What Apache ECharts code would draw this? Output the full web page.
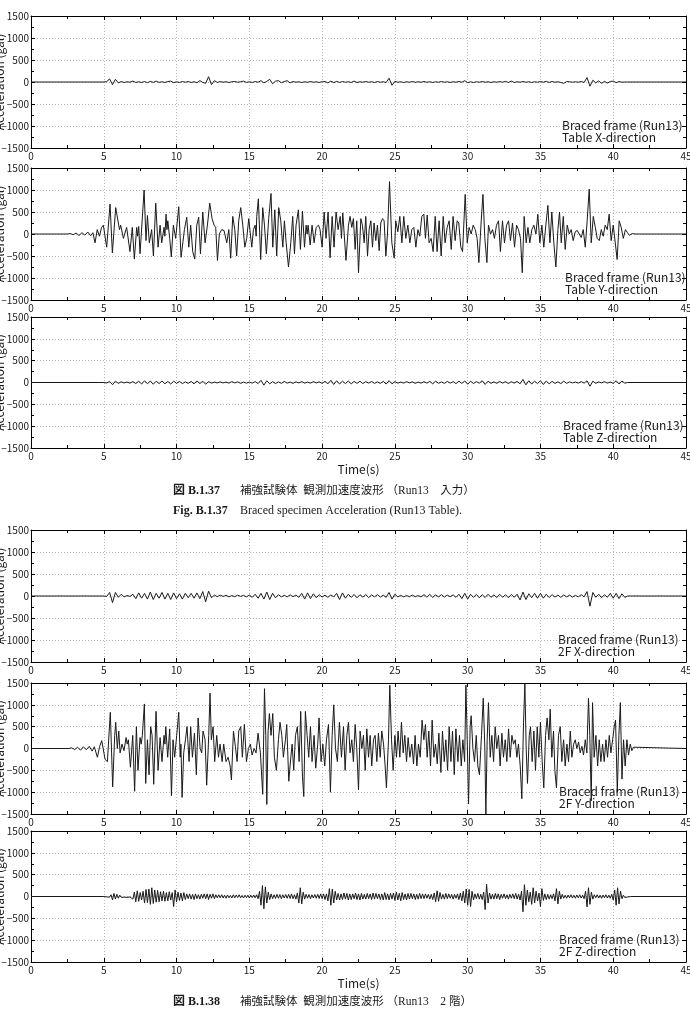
<!DOCTYPE html>
<html><head><meta charset="utf-8">
<script src="https://cdn.jsdelivr.net/npm/echarts@6/dist/echarts.min.js"></script>
<style>html,body{margin:0;padding:0;background:#fff}#c{width:690px;height:1011px}</style>
</head><body><div id="c"></div>
<script>
// ---------- axis ranges ----------
const timeRange = [0, 45];
const accRange = [-1500, 1500];

// ---------- uniform-sampled series (dt, start time, values) ----------
const smallDt = 0.2;
const smallT0 = 5.0;
const tableX = [
  0, 10, 70, -60, 60, -20, 10, -10, 5, -5,
  20, -10, 5, -10, 10, -15, 15, -10, 20, -10,
  5, -10, 10, 20, -15, 5, -10, 10, -5, 10,
  -10, 5, -15, 30, -10, -30, 120, -60, 30, -10,
  10, -5, 5, -10, 5, 10, -5, 5, 20, -10,
  5, -10, 10, -5, 30, -20, 15, 60, -40, 20,
  30, -15, 10, 30, -20, 10, -5, 5, -10, 5,
  -5, 10, -5, 5, -10, 5, 10, -20, 20, -15,
  15, -10, 10, -5, 5, -10, 20, -10, 5, -5,
  10, -5, 5, -10, 10, -5, 5, -10, 85, -75,
  15, -5, 5, -10, 5, -5, 10, -5, 5, -5,
  10, -5, 5, -10, 5, -5, 10, -5, 5, -10,
  5, -5, 10, -5, 30, -15, 5, -10, 5, -5,
  10, -5, 5, -10, 5, -5, 10, -5, 15, -10,
  20, -10, 5, -5, 10, -5, 5, -10, 5, -5,
  10, -5, 15, -10, 10, -5, 5, -10, -30, 10,
  5, -5, 5, -5, 10, -10, 100, -95, 40, -20,
  25, -30, 15, -25, 10, 20, -15, 10, -5, 0,
  0
];
const tableZ = [
  0, -10, 20, -50, 30, -20, 15, -10, 10, -15,
  20, -25, 30, -35, 40, -30, 35, -40, 30, -25,
  35, -30, 25, -35, 30, -20, 25, -25, 15, -20,
  25, -30, 35, -25, 30, -40, 20, -15, 10, -10,
  15, -10, 10, -15, 20, -10, 15, -20, 10, -15,
  10, -15, 20, -25, 50, -60, 40, -30, 20, -25,
  15, -20, 25, -15, 10, -20, 15, -10, 20, -15,
  10, -15, 20, -10, 15, -20, 25, -30, 50, -45,
  40, -35, 30, -25, 35, -30, 25, -20, 30, -25,
  20, -15, 25, -20, 15, -20, 25, -35, 40, -30,
  20, -15, 10, -15, 20, -10, 15, -20, 10, -15,
  20, -15, 25, -30, 30, -20, 15, -20, 25, -15,
  20, -25, 30, -20, 35, -40, 30, -25, 20, -15,
  40, -45, 30, -20, 15, -20, 25, -15, 20, -25,
  20, -15, 25, -30, 70, -55, 40, -35, 30, -25,
  40, -45, 35, -30, 25, -20, 15, -25, 30, -20,
  15, -10, 10, -15, 20, -15, 40, -85, 30, -20,
  15, -10, 20, -15, 10, -20, 40, -35, 30, -15,
  0
];
const floor2X = [
  0, -10, 80, -150, 80, -30, 40, -20, 10, -10,
  40, -60, 70, -50, 60, -70, 90, -80, 60, -50,
  80, -70, 60, -80, 70, -60, 50, -70, 60, -40,
  60, -50, 70, -60, 100, -130, 110, -40, 20, -15,
  20, -10, 15, -20, 10, -15, 20, -10, 15, -20,
  20, -30, 40, -50, 60, -70, 90, -80, 60, -40,
  30, -20, 15, -20, 25, -15, 20, -30, 60, -70,
  70, -60, 50, -40, 30, -25, 20, -30, 25, -20,
  60, -80, 70, -50, 40, -30, 35, -40, 30, -25,
  30, -35, 25, -20, 30, -25, 20, -30, 80, -70,
  40, -20, 15, -20, 10, -15, 20, -15, 10, -20,
  30, -25, 35, -30, 25, -20, 30, -25, 20, -15,
  25, -30, 40, -60, 60, -70, 40, -30, 35, -40,
  30, -35, 40, -30, 25, -35, 40, -30, 30, -40,
  35, -30, 40, -90, 90, -80, 50, -40, 60, -50,
  60, -50, 40, -35, 30, -25, 20, -30, 25, -20,
  20, -25, 15, -20, 30, -20, 100, -230, 80, -30,
  40, -40, 30, -30, 60, -50, 60, -60, 50, -30,
  0
];
const fineDt = 0.1;
const fineT0 = 5.0;
const floor2Z = [
  0, 5, -10, 10, -15, 40, -80, 70, -60, 50,
  -40, 30, -20, 25, -15, 20, -20, 15, -10, 20,
  -60, 100, -120, 130, -110, 90, -80, 120, -150, 160,
  -140, 170, -180, 200, -160, 150, -130, 140, -120, 110,
  -100, 120, -110, 90, -100, 110, -80, 90, -230, 150,
  -120, 100, -90, 80, -100, 90, -70, 60, -50, 60,
  -60, 50, -70, 60, -50, 40, -60, 50, -40, 60,
  -50, 60, -70, 50, -40, 60, -50, 40, -30, 40,
  -30, 40, -35, 30, -40, 35, -30, 25, -35, 40,
  -30, 35, -25, 40, -30, 25, -35, 30, -25, 30,
  -35, 30, -25, 35, -30, 40, -50, 120, -200, 250,
  -280, 220, -150, 100, -70, 60, -50, 40, -45, 50,
  -40, 45, -50, 40, -35, 45, -40, 50, -45, 60,
  -50, 40, -60, 80, -150, 200, -170, 100, -60, 50,
  -40, 45, -50, 40, -35, 45, -40, 50, -45, 60,
  -50, 60, -70, 60, -100, 180, -200, 170, -150, 120,
  -80, 70, -80, 60, -70, 80, -60, 70, -80, 60,
  -70, 60, -50, 80, -70, 60, -80, 70, -60, 50,
  -60, 70, -50, 60, -70, 80, -60, 70, -50, 60,
  -70, 60, -80, 90, -70, 60, -80, 70, -60, 80,
  -90, 100, -80, 70, -100, 90, -70, 60, -80, 70,
  -60, 70, -50, 60, -70, 50, -60, 70, -50, 60,
  -50, 60, -40, 50, -60, 50, -70, 80, -120, 130,
  -110, 90, -60, 50, -60, 70, -50, 60, -40, 50,
  -60, 50, -40, 60, -70, 80, -100, 120, -150, 170,
  -200, 160, -230, 120, -80, 60, -50, 70, -60, 50,
  -70, 100, -300, 280, -150, 80, -60, 50, -60, 70,
  -50, 60, -70, 50, -40, 60, -50, 40, -60, 50,
  -40, 60, -50, 70, -60, 50, -80, 120, -350, 270,
  -200, 150, -120, 100, -180, 200, -150, 120, -100, 80,
  -230, 180, -90, 60, -70, 50, -60, 40, -50, 60,
  -100, 180, -170, 120, -60, 50, -40, 30, -40, 35,
  -30, 40, -35, 30, -40, 35, -30, 40, -35, 30,
  -50, 120, -240, 200, -180, 100, -60, 40, -30, 40,
  -35, 30, -40, 35, -30, 40, -35, 30, -40, 50,
  -80, 150, -200, 200, -170, 120, -50, 30, -25, 20,
  -10, 5, 0
];

// ---------- turning-point series [time s, acceleration gal] ----------
const tableY = [
  [0,0],[2.5,0],[2.7,10],[2.9,-15],[3.1,20],[3.3,-35],[3.5,30],[3.7,-25],[3.9,45],[4.1,-40],[4.25,30],[4.4,-200],[4.55,100],[4.7,-50],[4.85,150],[4.97,200],
  [5.2,-300],[5.43,680],[5.59,-430],[5.82,600],[6.0,250],[6.08,100],[6.16,200],[6.35,-100],[6.57,150],[6.8,-400],[6.96,150],[7.1,-570],[7.26,150],[7.33,-50],[7.4,170],[7.49,-450],
  [7.77,1000],[7.9,-150],[8.0,420],[8.13,-200],[8.29,100],[8.41,-500],[8.57,700],[8.73,-300],[8.87,200],[8.98,-200],[9.14,150],[9.2,-50],[9.28,450],[9.34,100],[9.4,300],[9.53,-100],
  [9.64,-520],[9.78,200],[9.94,-100],[10.15,620],[10.31,-530],[10.54,100],[10.7,380],[10.84,-300],[10.97,200],[11.11,-400],[11.25,-570],[11.39,200],[11.52,380],[11.64,-450],[11.8,500],
  [11.96,-200],[12.12,200],[12.28,700],[12.44,350],[12.58,200],[12.69,150],[12.81,-600],[12.94,0],[13.1,100],[13.26,80],[13.45,-200],[13.59,100],[13.72,-550],[13.86,400],[14.0,100],
  [14.13,-500],[14.27,300],[14.41,600],[14.55,200],[14.69,-300],[14.82,-100],[14.96,350],[15.07,0],[15.17,-300],[15.28,100],[15.4,200],[15.47,-50],[15.51,400],[15.62,800],[15.78,-580],
  [15.92,600],[16.04,200],[16.17,-450],[16.33,350],[16.49,920],[16.61,-300],[16.75,550],[16.88,-500],[17.02,600],[17.16,300],[17.3,-300],[17.41,300],[17.53,-200],[17.69,-750],
  [17.85,-200],[17.98,400],[18.1,-450],[18.21,200],[18.37,550],[18.51,-350],[18.65,520],[18.79,-300],[18.9,200],[18.97,0],[19.04,200],[19.18,-250],[19.31,200],[19.45,-200],[19.59,150],
  [19.75,200],[19.86,100],[20.0,-300],[20.14,500],[20.27,-100],[20.41,500],[20.55,-540],[20.69,400],[20.82,-300],[20.96,500],[21.1,100],[21.24,400],[21.33,-100],[21.42,480],[21.64,-600],
  [21.81,200],[21.92,400],[22.04,150],[22.15,350],[22.27,-350],[22.38,300],[22.5,-880],[22.66,350],[22.77,200],[22.89,-200],[23.0,400],[23.12,-500],[23.23,100],[23.35,300],[23.46,-300],
  [23.57,250],[23.69,-150],[23.8,200],[23.92,-380],[24.03,250],[24.15,350],[24.26,300],[24.38,-500],[24.49,0],[24.63,1190],[24.79,-200],[24.95,-550],[25.06,300],[25.2,50],[25.34,400],
  [25.48,-200],[25.61,400],[25.75,-100],[25.89,200],[26.03,-200],[26.16,100],[26.3,150],[26.44,-300],[26.58,100],[26.71,-50],[26.85,400],[26.99,450],[27.1,-100],[27.22,430],[27.35,-200],
  [27.49,-100],[27.63,-400],[27.77,400],[27.9,-400],[28.04,300],[28.18,-500],[28.32,400],[28.45,-200],[28.59,150],[28.73,300],[28.87,-350],[29.0,400],[29.14,-150],[29.28,300],[29.39,250],
  [29.53,-300],[29.65,-400],[29.83,900],[29.97,-200],[30.1,150],[30.24,0],[30.38,200],[30.52,100],[30.65,-100],[30.77,-650],[30.93,300],[31.05,900],[31.18,-100],[31.32,-650],[31.43,200],
  [31.57,0],[31.71,100],[31.84,-100],[31.98,200],[32.12,300],[32.25,-400],[32.39,300],[32.53,-200],[32.67,200],[32.81,300],[32.94,-150],[33.08,250],[33.22,-300],[33.36,200],[33.49,100],
  [33.63,-100],[33.75,-880],[33.88,400],[34.02,-200],[34.14,150],[34.27,-200],[34.41,100],[34.55,200],[34.69,0],[34.82,450],[34.96,-200],[35.1,200],[35.23,-300],[35.37,200],[35.51,650],
  [35.65,-200],[35.78,500],[35.92,-200],[36.06,-750],[36.2,100],[36.31,500],[36.43,-200],[36.57,400],[36.7,-350],[36.84,200],[36.98,0],[37.11,100],[37.25,-150],[37.39,50],[37.53,80],
  [37.66,100],[37.8,-80],[37.94,100],[38.08,-300],[38.21,300],[38.35,1020],[38.49,-200],[38.63,400],[38.77,150],[38.9,-100],[39.04,-150],[39.18,100],[39.31,-50],[39.45,200],[39.59,100],
  [39.72,450],[39.86,-150],[40.0,200],[40.14,-200],[40.27,-580],[40.41,300],[40.55,150],[40.69,-100],[40.84,100],[40.98,30],[41.11,-30],[41.3,10],[41.5,0],[45,0]
];
const floor2Y = [
  [0,0],[2.6,0],[2.8,15],[3.0,-25],[3.2,30],[3.4,-40],[3.6,40],[3.8,-30],[4.0,50],[4.2,-60],[4.35,40],[4.56,-200],[4.72,50],[4.86,180],[5.09,-250],[5.25,-300],
  [5.45,830],[5.61,-880],[5.75,300],[5.82,600],[5.93,0],[6.03,400],[6.12,-100],[6.25,100],[6.39,-50],[6.53,250],[6.61,100],[6.69,200],[6.83,-430],[6.99,300],[7.12,-980],[7.24,500],
  [7.35,-500],[7.49,250],[7.57,100],[7.65,300],[7.79,1020],[7.88,-800],[8.0,200],[8.11,-600],[8.22,500],[8.32,300],[8.43,-820],[8.59,850],[8.73,-500],[8.87,250],[9.0,-300],[9.14,300],
  [9.2,100],[9.26,500],[9.39,-200],[9.53,450],[9.65,-1080],[9.76,200],[9.87,-200],[10.01,300],[10.15,830],[10.25,-200],[10.3,100],[10.38,-1120],[10.49,-100],[10.61,200],[10.72,500],
  [10.86,-300],[10.97,500],[11.09,-200],[11.23,350],[11.36,-600],[11.48,700],[11.62,0],[11.73,-100],[11.82,400],[11.96,200],[12.07,-840],[12.21,300],[12.3,1270],[12.39,200],[12.51,500],
  [12.62,-300],[12.76,300],[12.88,-200],[12.99,100],[13.13,-300],[13.24,100],[13.4,-300],[13.54,-200],[13.68,-400],[13.77,-720],[13.91,400],[14.04,50],[14.16,-300],[14.27,400],[14.41,500],
  [14.52,-200],[14.66,550],[14.8,-300],[14.94,0],[15.07,100],[15.19,-150],[15.33,0],[15.46,-100],[15.6,350],[15.76,-100],[15.92,-1050],[16.04,1370],[16.13,300],[16.2,-1280],[16.29,400],
  [16.38,800],[16.49,300],[16.61,800],[16.72,-200],[16.86,-500],[17.0,200],[17.11,600],[17.23,300],[17.34,-200],[17.48,200],[17.57,550],[17.71,-750],[17.85,-200],[17.94,100],[18.05,-500],
  [18.17,300],[18.3,500],[18.42,-300],[18.53,850],[18.65,-650],[18.74,-1100],[18.85,850],[18.97,300],[19.08,-200],[19.2,500],[19.31,-300],[19.45,300],[19.56,-450],[19.7,100],[19.79,700],
  [19.93,-300],[20.05,100],[20.18,-400],[20.3,200],[20.44,550],[20.57,-1000],[20.69,300],[20.8,1000],[20.92,0],[21.05,-300],[21.19,600],[21.33,-200],[21.47,500],[21.58,-500],[21.7,300],
  [21.81,600],[21.92,-100],[22.04,200],[22.15,-300],[22.27,550],[22.38,0],[22.5,-950],[22.61,400],[22.73,0],[22.84,300],[22.96,-500],[23.07,450],[23.19,-200],[23.3,300],[23.41,-400],
  [23.53,200],[23.64,300],[23.76,-300],[23.87,350],[23.99,-200],[24.1,400],[24.22,100],[24.33,-400],[24.42,-900],[24.56,200],[24.65,1450],[24.77,200],[24.88,-500],[25.0,300],[25.11,-200],
  [25.22,400],[25.34,-200],[25.45,600],[25.57,-100],[25.68,300],[25.8,-300],[25.91,250],[26.03,-200],[26.16,100],[26.28,-350],[26.39,300],[26.51,-400],[26.62,100],[26.74,-200],[26.87,650],
  [26.99,200],[27.1,550],[27.22,-200],[27.33,400],[27.45,-400],[27.56,650],[27.68,-200],[27.79,100],[27.91,-350],[28.02,350],[28.16,-550],[28.27,400],[28.39,-300],[28.5,200],[28.62,-500],
  [28.73,500],[28.85,-300],[28.96,400],[29.08,-600],[29.19,450],[29.33,-300],[29.44,300],[29.56,-400],[29.67,200],[29.79,-300],[29.88,1450],[29.97,200],[30.06,-1270],[30.17,500],[30.24,750],
  [30.36,0],[30.47,-300],[30.59,300],[30.7,-400],[30.81,-600],[30.95,300],[31.07,1150],[31.18,0],[31.25,-1500],[31.34,200],[31.43,1050],[31.55,-200],[31.66,300],[31.78,-300],[31.89,500],
  [32.0,0],[32.12,300],[32.23,-400],[32.35,350],[32.46,-200],[32.58,200],[32.69,-300],[32.81,450],[32.92,-200],[33.04,300],[33.15,100],[33.27,200],[33.38,-200],[33.49,100],[33.61,-400],
  [33.72,-1150],[33.84,600],[33.93,1500],[34.02,0],[34.11,-800],[34.23,300],[34.32,500],[34.43,-300],[34.55,400],[34.66,-500],[34.78,500],[34.89,-200],[35.0,600],[35.12,-300],[35.23,-900],
  [35.35,300],[35.46,700],[35.58,200],[35.67,900],[35.78,-200],[35.9,400],[35.99,-500],[36.1,-900],[36.24,300],[36.36,500],[36.47,-300],[36.59,200],[36.7,-400],[36.82,100],[36.93,-300],
  [37.05,400],[37.16,-200],[37.28,100],[37.39,200],[37.5,0],[37.62,150],[37.73,-100],[37.85,50],[37.96,-150],[38.08,200],[38.19,-100],[38.3,1150],[38.39,300],[38.49,-1200],[38.58,1050],
  [38.69,-200],[38.81,300],[38.93,-400],[39.04,200],[39.15,-300],[39.27,100],[39.38,-300],[39.5,200],[39.61,-200],[39.73,300],[39.84,-100],[39.96,200],[40.07,500],[40.16,650],[40.28,-1000],
  [40.39,300],[40.49,1050],[40.6,-700],[40.71,200],[40.82,-400],[40.94,200],[41.05,-150],[41.17,100],[41.28,-50],[41.39,30],[41.5,0],[45,0]
];

// ---------- text ----------
const panelNotes = [
  ['Braced frame (Run13)', 'Table X-direction'],
  ['Braced frame (Run13)', 'Table Y-direction'],
  ['Braced frame (Run13)', 'Table Z-direction'],
  ['Braced frame (Run13)', '2F X-direction'],
  ['Braced frame (Run13)', '2F Y-direction'],
  ['Braced frame (Run13)', '2F Z-direction']
];
const yName = 'Acceleration (gal)';
const xName = 'Time(s)';
const captions = [
  ['図 B.1.37', '補強試験体  観測加速度波形 （Run13　入力）'],
  ['Fig. B.1.37', 'Braced specimen Acceleration (Run13 Table).'],
  ['図 B.1.38', '補強試験体  観測加速度波形 （Run13　2 階）']
];

// ---------- build ----------
function uniform(vals, t0, dt) {
  const out = [[0, 0]];
  vals.forEach((v, i) => out.push([Math.round((t0 + i * dt) * 100) / 100, v]));
  out.push([45, 0]);
  return out;
}
const seriesData = [
  uniform(tableX, smallT0, smallDt),
  tableY,
  uniform(tableZ, smallT0, smallDt),
  uniform(floor2X, smallT0, smallDt),
  floor2Y,
  uniform(floor2Z, fineT0, fineDt)
];

const FONT = "'Noto Sans CJK JP', 'Noto Sans', sans-serif";
const SERIF = "'Liberation Serif', 'Noto Sans CJK JP', serif";
const tops = [16, 168, 317, 530, 683, 831];
const heights = [132, 132, 131, 132, 131, 131];
const noteX = [562, 565, 563, 558, 559, 559];
const withTime = [false, false, true, false, false, true];

const grid = [], xAxis = [], yAxis = [], series = [], graphic = [];
const axisLine = { show: true, onZero: false, lineStyle: { color: '#000', width: 1 } };
const tick = { show: true, inside: true, length: 4, lineStyle: { color: '#000', width: 1 } };
const minor = { show: true, splitNumber: 2, length: 3, lineStyle: { color: '#000', width: 1 } };
const split = { show: true, lineStyle: { type: [1, 2], color: '#b8b8b8', width: 1 } };
const labelStyle = { fontFamily: FONT, fontSize: 10, color: '#1a1a1a' };

seriesData.forEach((data, i) => {
  grid.push({ left: 31, right: 4, top: tops[i], height: heights[i], containLabel: false, outerBoundsMode: 'none' });
  xAxis.push({
    gridIndex: i, type: 'value', position: 'bottom', min: timeRange[0], max: timeRange[1], interval: 5,
    axisLine, axisTick: tick, minorTick: minor, splitLine: split,
    axisLabel: Object.assign({ margin: 3 }, labelStyle),
    name: withTime[i] ? xName : '', nameLocation: 'middle', nameGap: 15, nameMoveOverlap: false,
    nameTextStyle: { fontFamily: FONT, fontSize: 12, color: '#1a1a1a' }
  });
  xAxis.push({
    gridIndex: i, type: 'value', position: 'top', min: timeRange[0], max: timeRange[1], interval: 5,
    axisLine, axisTick: tick, minorTick: minor, splitLine: { show: false }, axisLabel: { show: false }
  });
  yAxis.push({
    gridIndex: i, type: 'value', position: 'left', min: accRange[0], max: accRange[1], interval: 500,
    axisLine, axisTick: tick, minorTick: minor, splitLine: split,
    axisLabel: Object.assign({ margin: 2, formatter: v => (v < 0 ? '\u2212' + Math.abs(v) : String(v)) }, labelStyle),
    name: yName, nameLocation: 'middle', nameGap: 26, nameMoveOverlap: false,
    nameTextStyle: { fontFamily: FONT, fontSize: 12, color: '#1a1a1a' }
  });
  yAxis.push({
    gridIndex: i, type: 'value', position: 'right', min: accRange[0], max: accRange[1], interval: 500,
    axisLine, axisTick: tick, minorTick: minor, splitLine: { show: false }, axisLabel: { show: false }
  });
  series.push({
    type: 'line', xAxisIndex: 2 * i, yAxisIndex: 2 * i, data, showSymbol: false, symbol: 'none',
    lineStyle: { color: '#1a1a1a', width: 1 }, silent: true, clip: true, z: 3
  });
  const bottom = tops[i] + heights[i];
  panelNotes[i].forEach((t, k) => {
    graphic.push({
      type: 'text', x: noteX[i], y: bottom - 23 + k * 12.5, z: 10,
      style: { text: t, fontFamily: FONT, fontSize: 12, fill: '#1a1a1a', align: 'left', verticalAlign: 'middle' }
    });
  });
});

const capY = [491, 511, 1002];
captions.forEach((c, i) => {
  graphic.push({
    type: 'text', x: 173, y: capY[i], z: 10,
    style: { text: c[0], fontFamily: SERIF, fontWeight: 'bold', fontSize: 12, fill: '#1a1a1a', align: 'left', verticalAlign: 'middle' }
  });
  graphic.push({
    type: 'text', x: 240, y: capY[i], z: 10,
    style: { text: c[1], fontFamily: SERIF, fontSize: i === 1 ? 12 : 11.5, fill: '#1a1a1a', align: 'left', verticalAlign: 'middle' }
  });
});

const chart = echarts.init(document.getElementById('c'), null, { renderer: 'canvas' });
chart.setOption({ animation: false, backgroundColor: '#fff', grid, xAxis, yAxis, series, graphic });
</script>
</body></html>
